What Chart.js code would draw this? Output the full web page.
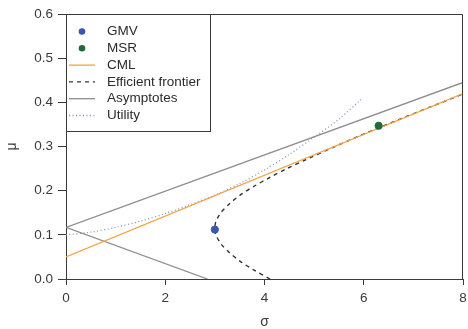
<!DOCTYPE html>
<html>
<head>
<meta charset="utf-8">
<script src="https://cdn.jsdelivr.net/npm/chart.js@4/dist/chart.umd.min.js"></script>
<style>
  html, body { margin: 0; padding: 0; background: #fff; }
  #wrap { width: 468px; height: 329px; }
</style>
</head>
<body>
<div id="wrap"><canvas id="myChart" width="468" height="329"></canvas></div>
<script>
// points
var gmvSigma = [3.0];
var gmvMu = [0.112];
var msrSigma = [6.3];
var msrMu = [0.347];
// capital market line
var cmlSigma = [0, 8];
var cmlMu = [0.05, 0.42];
// efficient frontier
var frontierSigma = [4.11, 3.79, 3.51, 3.29, 3.12, 3.02, 3.0, 3.02, 3.12, 3.29, 3.51, 3.79, 4.11, 4.45, 4.83, 5.42, 6.04, 6.69, 7.35, 8.0];
var frontierMu = [0.0, 0.02, 0.04, 0.06, 0.08, 0.10, 0.115, 0.13, 0.15, 0.17, 0.19, 0.21, 0.23, 0.25, 0.27, 0.30, 0.33, 0.36, 0.39, 0.419];
// asymptotes (upper end, meeting point, lower end)
var asymSigma = [8, 0, 2.85];
var asymMu = [0.445, 0.117, 0.0];
// utility curve
var utilSigma = [0, 0.5, 1, 1.5, 2, 2.5, 3, 3.5, 4, 4.5, 5, 5.5, 5.95];
var utilMu = [0.100, 0.106, 0.117, 0.131, 0.148, 0.168, 0.190, 0.216, 0.247, 0.282, 0.321, 0.362, 0.407];

var Labels = ["GMV", "MSR", "CML", "Efficient frontier", "Asymptotes", "Utility"];
var sigmaTicks = [0, 2, 4, 6, 8];
var muTicks = [0, 0.1, 0.2, 0.3, 0.4, 0.5, 0.6];

function pts(xs, ys) {
  return xs.map(function (x, i) { return { x: x, y: ys[i] }; });
}

var FONT = "'Liberation Sans', Arial, sans-serif";
var AXIS = "#3a3a3a";

// frame round the plot and the legend box in the top left corner
var boxPlugin = {
  id: 'boxPlugin',
  afterDraw: function (chart) {
    var ctx = chart.ctx, a = chart.chartArea;
    ctx.save();
    ctx.strokeStyle = AXIS;
    ctx.lineWidth = 1;
    ctx.beginPath();
    ctx.moveTo(a.left, a.top + 0.5);
    ctx.lineTo(a.right - 0.5, a.top + 0.5);
    ctx.lineTo(a.right - 0.5, a.bottom);
    ctx.stroke();

    var bx = a.left, by = a.top, bw = 144, bh = 117;
    ctx.fillStyle = "#fff";
    ctx.fillRect(bx, by, bw, bh);
    ctx.strokeRect(bx + 0.5, by + 0.5, bw, bh);

    ctx.font = "13.5px " + FONT;
    ctx.textBaseline = "middle";
    chart.data.datasets.forEach(function (ds, i) {
      var y = by + 17.5 + i * 16.8;
      if (ds.pointRadius > 0 && !ds.showLine) {
        ctx.fillStyle = ds.backgroundColor;
        ctx.beginPath();
        ctx.arc(bx + 16, y, 3.3, 0, Math.PI * 2);
        ctx.fill();
      } else {
        ctx.strokeStyle = ds.borderColor;
        ctx.lineWidth = ds.borderWidth;
        ctx.setLineDash(ds.borderDash || []);
        ctx.beginPath();
        ctx.moveTo(bx + 3, y);
        ctx.lineTo(bx + 29, y);
        ctx.stroke();
        ctx.setLineDash([]);
      }
      ctx.fillStyle = "#2b2b2b";
      ctx.fillText(ds.label, bx + 41, y);
    });
    ctx.restore();
  }
};

var ctx = document.getElementById("myChart");
var myChart = new Chart(ctx, {
  type: 'scatter',
  data: {
    datasets: [
      {
        label: Labels[0],
        data: pts(gmvSigma, gmvMu),
        backgroundColor: "#3a55b4",
        borderColor: "#3a55b4",
        pointRadius: 3.6,
        showLine: false
      },
      {
        label: Labels[1],
        data: pts(msrSigma, msrMu),
        backgroundColor: "#1f6b3a",
        borderColor: "#1f6b3a",
        pointRadius: 3.6,
        showLine: false
      },
      {
        label: Labels[2],
        data: pts(cmlSigma, cmlMu),
        borderColor: "#f2a444",
        borderWidth: 1.3,
        pointRadius: 0,
        showLine: true
      },
      {
        label: Labels[3],
        data: pts(frontierSigma, frontierMu),
        borderColor: "#333333",
        borderWidth: 1.4,
        borderDash: [4, 4],
        pointRadius: 0,
        tension: 0.3,
        showLine: true
      },
      {
        label: Labels[4],
        data: pts(asymSigma, asymMu),
        borderColor: "#8e8e8e",
        borderWidth: 1.3,
        pointRadius: 0,
        showLine: true
      },
      {
        label: Labels[5],
        data: pts(utilSigma, utilMu),
        borderColor: "#8194c4",
        borderWidth: 1.3,
        borderDash: [1, 2.5],
        pointRadius: 0,
        tension: 0.3,
        showLine: true
      }
    ]
  },
  options: {
    responsive: false,
    animation: false,
    layout: { padding: { top: 14, right: 2, left: 0, bottom: 0 } },
    plugins: {
      legend: { display: false },
      tooltip: { enabled: false }
    },
    scales: {
      x: {
        type: 'linear',
        min: 0, max: 8,
        afterBuildTicks: function (s) { s.ticks = sigmaTicks.map(function (v) { return { value: v }; }); },
        afterFit: function (s) { s.height = 50; s.paddingRight = 0; s.paddingLeft = 0; },
        ticks: { color: AXIS, font: { family: FONT, size: 13.5 }, padding: 5, maxRotation: 0 },
        grid: { drawOnChartArea: false, drawTicks: true, tickLength: 6, color: AXIS },
        border: { display: true, color: AXIS },
        title: { display: true, text: "σ", color: AXIS, font: { family: FONT, size: 14 }, padding: { top: 0, bottom: -2 } }
      },
      y: {
        type: 'linear',
        min: 0, max: 0.6,
        afterBuildTicks: function (s) { s.ticks = muTicks.map(function (v) { return { value: v }; }); },
        afterFit: function (s) { s.width = 66; },
        ticks: {
          color: AXIS, font: { family: FONT, size: 13.5 }, padding: 5,
          callback: function (v) { return v.toFixed(1); }
        },
        grid: { drawOnChartArea: false, drawTicks: true, tickLength: 8, color: AXIS },
        border: { display: true, color: AXIS },
        title: { display: true, text: "μ", color: AXIS, font: { family: FONT, size: 14 }, padding: { top: 4, bottom: 0 } }
      }
    }
  },
  plugins: [boxPlugin]
});
</script>
</body>
</html>
